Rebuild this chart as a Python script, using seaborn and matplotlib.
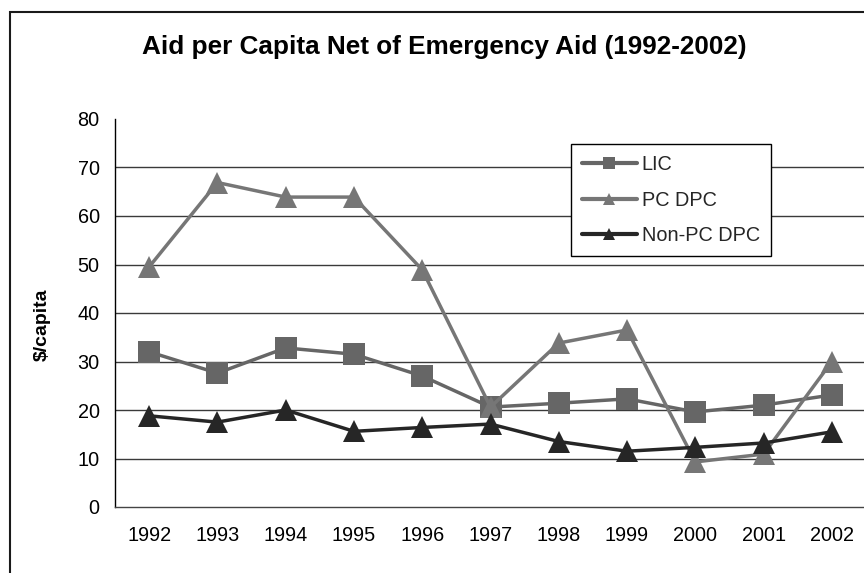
import matplotlib
matplotlib.use("Agg")
import matplotlib.pyplot as plt
from matplotlib.patches import Rectangle
from matplotlib.ticker import FixedLocator
import pandas as pd
import seaborn as sns

years = [1992, 1993, 1994, 1995, 1996, 1997, 1998, 1999, 2000, 2001, 2002]
lic = [32.0, 27.6, 32.8, 31.5, 27.0, 20.6, 21.4, 22.3, 19.6, 21.0, 23.1]
pc_dpc = [49.5, 66.9, 63.9, 63.9, 48.9, 20.6, 33.8, 36.5, 9.3, 10.9, 30.0]
non_pc_dpc = [18.8, 17.5, 20.0, 15.6, 16.4, 17.1, 13.5, 11.5, 12.3, 13.2, 15.5]
series_names = ["LIC", "PC DPC", "Non-PC DPC"]

df = pd.DataFrame({
    "year": years * 3,
    "value": lic + pc_dpc + non_pc_dpc,
    "series": [s for s in series_names for _ in years],
})

sns.set_theme(style="white")
plt.rcParams["font.family"] = ["Liberation Sans", "DejaVu Sans"]

fig = plt.figure(figsize=(8.64, 5.73), dpi=100)
ax = fig.add_axes([115 / 864, 1 - 507 / 573, (866 - 115) / 864, (507 - 119) / 573])

palette = {"LIC": "#666666", "PC DPC": "#767676", "Non-PC DPC": "#262626"}
markers = {"LIC": "s", "PC DPC": "^", "Non-PC DPC": "^"}

# horizontal gridlines (no line at the top value)
for v in range(10, 80, 10):
    ax.axhline(v, color="#3a3a3a", lw=1.0, zorder=0)

sns.lineplot(
    data=df, x="year", y="value", hue="series", style="series",
    hue_order=series_names, style_order=series_names,
    palette=palette, markers=markers, dashes=False,
    lw=2.5, markersize=15.5, markeredgewidth=0, ax=ax, legend=True,
)

ax.set_xlim(1991.5, 2002.5)
ax.set_ylim(0, 80)
ax.set_yticks(range(0, 81, 10))
ax.set_xticks(years)
ax.xaxis.set_minor_locator(FixedLocator([y - 0.5 for y in years]))
ax.tick_params(axis="x", which="major", length=0, pad=14, labelsize=14.3, colors="black")
ax.tick_params(axis="x", which="minor", length=6, width=1, color="#333333", direction="out")
ax.tick_params(axis="y", length=6, width=1, color="#333333", direction="out", pad=5,
               labelsize=14.3, colors="black")
ax.set_xlabel("")
ax.set_ylabel("$/capita", fontsize=14, fontweight="bold", color="black")
ax.yaxis.set_label_coords(-0.085, 0.47)

for side in ["top", "right"]:
    ax.spines[side].set_visible(False)
ax.spines["left"].set_color("black")
ax.spines["left"].set_linewidth(1.0)
ax.spines["bottom"].set_color("#444444")
ax.spines["bottom"].set_linewidth(1.0)

handles, labels = ax.get_legend_handles_labels()
for h in handles:
    h.set_markersize(8.5)
    h.set_linewidth(3)
leg = ax.legend(
    handles, labels, loc="upper left",
    bbox_to_anchor=(571 / 864, 1 - 144 / 573), bbox_transform=fig.transFigure,
    fontsize=14.3, frameon=True, fancybox=False, framealpha=1,
    handlelength=2.75, handletextpad=0.25, labelspacing=0.84,
    borderpad=0.55, borderaxespad=0,
)
leg.get_frame().set_edgecolor("black")
leg.get_frame().set_linewidth(1.0)

fig.text(444 / 864, 1 - 47 / 573, "Aid per Capita Net of Emergency Aid (1992-2002)",
         ha="center", va="center", fontsize=18.8, fontweight="bold", color="black")

# outer chart frame, open on the right and bottom
fig.add_artist(Rectangle((10 / 864, -0.2), 1.5, 1.2 - 12 / 573,
                         transform=fig.transFigure, fill=False,
                         edgecolor="#1a1a1a", lw=1.5))

fig.savefig("out.png", dpi=100)
